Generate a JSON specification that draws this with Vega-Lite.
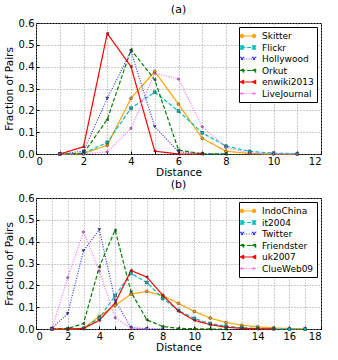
{
  "$schema": "https://vega.github.io/schema/vega-lite/v6.json",
  "padding": {"left": 3, "top": 3, "right": 12, "bottom": 0},
  "spacing": 0,
  "config": {
    "font": "DejaVu Sans",
    "view": {"stroke": "black", "strokeWidth": 1},
    "axis": {
      "labelFont": "DejaVu Sans", "labelFontSize": 10, "labelColor": "black",
      "titleFont": "DejaVu Sans", "titleFontSize": 10.5, "titleFontWeight": "normal", "titleColor": "black",
      "domain": false, "tickColor": "black", "tickSize": -3, "labelPadding": 5,
      "grid": true, "gridColor": "#999999", "gridDash": [1, 2], "gridWidth": 1, "gridOpacity": 1
    },
    "point": {"filled": true, "size": 8, "stroke": "#222222", "strokeWidth": 0.5, "opacity": 1},
    "title": {"font": "DejaVu Sans", "fontSize": 11, "fontWeight": "normal", "offset": 3}
  },
  "datasets": {
    "a": [
      {"s":"Skitter","d":1,"f":0},{"s":"Skitter","d":2,"f":0.002},{"s":"Skitter","d":3,"f":0.04},{"s":"Skitter","d":4,"f":0.255},{"s":"Skitter","d":5,"f":0.378},{"s":"Skitter","d":6,"f":0.228},{"s":"Skitter","d":7,"f":0.072},{"s":"Skitter","d":8,"f":0.013},{"s":"Skitter","d":9,"f":0.002},{"s":"Skitter","d":10,"f":0},{"s":"Skitter","d":11,"f":0},
      {"s":"Flickr","d":1,"f":0},{"s":"Flickr","d":2,"f":0.003},{"s":"Flickr","d":3,"f":0.053},{"s":"Flickr","d":4,"f":0.21},{"s":"Flickr","d":5,"f":0.283},{"s":"Flickr","d":6,"f":0.197},{"s":"Flickr","d":7,"f":0.097},{"s":"Flickr","d":8,"f":0.036},{"s":"Flickr","d":9,"f":0.012},{"s":"Flickr","d":10,"f":0.004},{"s":"Flickr","d":11,"f":0.001},
      {"s":"Hollywood","d":1,"f":0},{"s":"Hollywood","d":2,"f":0.013},{"s":"Hollywood","d":3,"f":0.255},{"s":"Hollywood","d":4,"f":0.47},{"s":"Hollywood","d":5,"f":0.125},{"s":"Hollywood","d":6,"f":0.01},{"s":"Hollywood","d":7,"f":0.001},{"s":"Hollywood","d":8,"f":0},
      {"s":"Orkut","d":1,"f":0},{"s":"Orkut","d":2,"f":0.003},{"s":"Orkut","d":3,"f":0.158},{"s":"Orkut","d":4,"f":0.478},{"s":"Orkut","d":5,"f":0.34},{"s":"Orkut","d":6,"f":0.018},{"s":"Orkut","d":7,"f":0.001},{"s":"Orkut","d":8,"f":0},
      {"s":"enwiki2013","d":1,"f":0},{"s":"enwiki2013","d":2,"f":0.033},{"s":"enwiki2013","d":3,"f":0.552},{"s":"enwiki2013","d":4,"f":0.4},{"s":"enwiki2013","d":5,"f":0.013},{"s":"enwiki2013","d":6,"f":0},{"s":"enwiki2013","d":7,"f":0},
      {"s":"LiveJournal","d":1,"f":0},{"s":"LiveJournal","d":2,"f":0},{"s":"LiveJournal","d":3,"f":0.01},{"s":"LiveJournal","d":4,"f":0.117},{"s":"LiveJournal","d":5,"f":0.37},{"s":"LiveJournal","d":6,"f":0.343},{"s":"LiveJournal","d":7,"f":0.125},{"s":"LiveJournal","d":8,"f":0.03},{"s":"LiveJournal","d":9,"f":0.004},{"s":"LiveJournal","d":10,"f":0.001},{"s":"LiveJournal","d":11,"f":0}
    ],
    "b": [
      {"s":"IndoChina","d":1,"f":0},{"s":"IndoChina","d":2,"f":0},{"s":"IndoChina","d":3,"f":0.003},{"s":"IndoChina","d":4,"f":0.058},{"s":"IndoChina","d":5,"f":0.108},{"s":"IndoChina","d":6,"f":0.16},{"s":"IndoChina","d":7,"f":0.172},{"s":"IndoChina","d":8,"f":0.153},{"s":"IndoChina","d":9,"f":0.117},{"s":"IndoChina","d":10,"f":0.08},{"s":"IndoChina","d":11,"f":0.05},{"s":"IndoChina","d":12,"f":0.03},{"s":"IndoChina","d":13,"f":0.017},{"s":"IndoChina","d":14,"f":0.01},{"s":"IndoChina","d":15,"f":0.005},{"s":"IndoChina","d":16,"f":0.002},{"s":"IndoChina","d":17,"f":0.001},
      {"s":"it2004","d":1,"f":0},{"s":"it2004","d":2,"f":0},{"s":"it2004","d":3,"f":0.003},{"s":"it2004","d":4,"f":0.05},{"s":"it2004","d":5,"f":0.153},{"s":"it2004","d":6,"f":0.255},{"s":"it2004","d":7,"f":0.213},{"s":"it2004","d":8,"f":0.14},{"s":"it2004","d":9,"f":0.085},{"s":"it2004","d":10,"f":0.048},{"s":"it2004","d":11,"f":0.025},{"s":"it2004","d":12,"f":0.013},{"s":"it2004","d":13,"f":0.006},{"s":"it2004","d":14,"f":0.003},{"s":"it2004","d":15,"f":0.001},{"s":"it2004","d":16,"f":0},{"s":"it2004","d":17,"f":0},
      {"s":"Twitter","d":1,"f":0.003},{"s":"Twitter","d":2,"f":0.07},{"s":"Twitter","d":3,"f":0.358},{"s":"Twitter","d":4,"f":0.455},{"s":"Twitter","d":5,"f":0.13},{"s":"Twitter","d":6,"f":0.007},{"s":"Twitter","d":7,"f":0.001},{"s":"Twitter","d":8,"f":0},
      {"s":"Friendster","d":1,"f":0},{"s":"Friendster","d":2,"f":0.002},{"s":"Friendster","d":3,"f":0.025},{"s":"Friendster","d":4,"f":0.285},{"s":"Friendster","d":5,"f":0.453},{"s":"Friendster","d":6,"f":0.17},{"s":"Friendster","d":7,"f":0.042},{"s":"Friendster","d":8,"f":0.012},{"s":"Friendster","d":9,"f":0.003},{"s":"Friendster","d":10,"f":0.001},{"s":"Friendster","d":11,"f":0},{"s":"Friendster","d":12,"f":0},
      {"s":"uk2007","d":1,"f":0},{"s":"uk2007","d":2,"f":0},{"s":"uk2007","d":3,"f":0.002},{"s":"uk2007","d":4,"f":0.04},{"s":"uk2007","d":5,"f":0.12},{"s":"uk2007","d":6,"f":0.268},{"s":"uk2007","d":7,"f":0.238},{"s":"uk2007","d":8,"f":0.155},{"s":"uk2007","d":9,"f":0.082},{"s":"uk2007","d":10,"f":0.04},{"s":"uk2007","d":11,"f":0.02},{"s":"uk2007","d":12,"f":0.008},{"s":"uk2007","d":13,"f":0.003},{"s":"uk2007","d":14,"f":0.001},{"s":"uk2007","d":15,"f":0},
      {"s":"ClueWeb09","d":1,"f":0},{"s":"ClueWeb09","d":2,"f":0.235},{"s":"ClueWeb09","d":3,"f":0.445},{"s":"ClueWeb09","d":4,"f":0.265},{"s":"ClueWeb09","d":5,"f":0.052},{"s":"ClueWeb09","d":6,"f":0.003},{"s":"ClueWeb09","d":7,"f":0}
    ]
  },
  "vconcat": [
    {
      "title": "(a)",
      "width": 285, "height": 131,
      "data": {"name": "a"},
      "encoding": {
        "x": {"field": "d", "type": "quantitative", "title": "Distance",
              "scale": {"domain": [0, 12], "nice": false},
              "axis": {"values": [0,1,2,3,4,5,6,7,8,9,10,11,12], "labelExpr": "datum.value % 2 == 0 ? datum.label : ''", "titlePadding": 1}},
        "y": {"field": "f", "type": "quantitative", "title": "Fraction of Pairs",
              "scale": {"domain": [0, 0.6], "nice": false},
              "axis": {"values": [0,0.1,0.2,0.3,0.4,0.5,0.6], "format": ".1f"}}
      },
      "layer": [
        {"mark": {"type": "line", "strokeWidth": 1.2},
         "encoding": {
           "color": {"field": "s", "type": "nominal",
                  "scale": {"domain": ["Skitter","Flickr","Hollywood","Orkut","enwiki2013","LiveJournal"],
                            "range": ["#ffa500","#00bfbf","#3333ff","#008000","#ff0000","#ff66ff"]},
                  "legend": {"title": null, "orient": "top-right", "offset": 4, "strokeColor": "black", "fillColor": "white", "padding": 3, "labelFontSize": 9, "labelFont": "DejaVu Sans", "labelColor": "black", "labelOffset": 8, "symbolSize": 110, "rowPadding": 0.5, "symbolType": "stroke", "symbolStrokeWidth": 1.2,
                    "encode": {"symbols": {"update": {
                      "shape": {"signal": "'M-1.3,0L1.3,0' + (indexof(['Skitter','IndoChina'],datum.value)>=0 ? 'M-1.45,0a0.3,0.3 0 1,0 0.6,0a0.3,0.3 0 1,0 -0.6,0M0.85,0a0.3,0.3 0 1,0 0.6,0a0.3,0.3 0 1,0 -0.6,0' : indexof(['Flickr','it2004'],datum.value)>=0 ? 'M-1.45,-0.3h0.6v0.6h-0.6ZM0.85,-0.3h0.6v0.6h-0.6Z' : indexof(['Hollywood','Twitter'],datum.value)>=0 ? 'M-1.45,-0.3h0.6l-0.3,0.6ZM0.85,-0.3h0.6l-0.3,0.6Z' : indexof(['Orkut','Friendster','enwiki2013','uk2007'],datum.value)>=0 ? 'M-0.85,-0.3v0.6l-0.6,-0.3ZM1.45,-0.3v0.6l-0.6,-0.3Z' : 'M-1.35,0a0.2,0.2 0 1,0 0.4,0a0.2,0.2 0 1,0 -0.4,0M0.95,0a0.2,0.2 0 1,0 0.4,0a0.2,0.2 0 1,0 -0.4,0')"},
                      "fill": {"signal": "{'Skitter':'#cc8400','Flickr':'#009999','Hollywood':'#000099','Orkut':'#005500','enwiki2013':'#aa0000','LiveJournal':'#660066','IndoChina':'#cc8400','it2004':'#009999','Twitter':'#000099','Friendster':'#005500','uk2007':'#aa0000','ClueWeb09':'#660066'}[datum.value]"},
                      "opacity": {"value": 1}
                    }}}}},
           "strokeDash": {"field": "s", "type": "nominal", "legend": {"title": null, "orient": "top-right"},
           "scale": {"domain": ["Skitter","Flickr","Hollywood","Orkut","enwiki2013","LiveJournal"],
                     "range": [[1,0],[4,2],[1,1.5],[4,2],[1,0],[1,1.5]]}}}},
        {"transform": [{"filter": {"field": "s", "oneOf": ["Skitter"]}}], "mark": {"type": "point", "shape": "circle"}, "encoding": {"color": {"field": "s", "type": "nominal", "legend": null}}},
        {"transform": [{"filter": {"field": "s", "oneOf": ["Flickr"]}}], "mark": {"type": "point", "shape": "square"}, "encoding": {"color": {"field": "s", "type": "nominal", "legend": null}}},
        {"transform": [{"filter": {"field": "s", "oneOf": ["Hollywood"]}}], "mark": {"type": "point", "shape": "triangle-down"}, "encoding": {"color": {"field": "s", "type": "nominal", "legend": null}}},
        {"transform": [{"filter": {"field": "s", "oneOf": ["Orkut", "enwiki2013"]}}], "mark": {"type": "point", "shape": "triangle-left"}, "encoding": {"color": {"field": "s", "type": "nominal", "legend": null}}},
        {"transform": [{"filter": {"field": "s", "oneOf": ["LiveJournal"]}}], "mark": {"type": "point", "shape": "circle", "size": 5}, "encoding": {"color": {"field": "s", "type": "nominal", "legend": null}}}
      ]
    },
    {
      "title": "(b)",
      "width": 285, "height": 131,
      "data": {"name": "b"},
      "encoding": {
        "x": {"field": "d", "type": "quantitative", "title": "Distance",
              "scale": {"domain": [0, 18], "nice": false},
              "axis": {"values": [0,1,2,3,4,5,6,7,8,9,10,11,12,13,14,15,16,17,18], "labelExpr": "datum.value % 2 == 0 ? datum.label : ''", "titlePadding": 1}},
        "y": {"field": "f", "type": "quantitative", "title": "Fraction of Pairs",
              "scale": {"domain": [0, 0.6], "nice": false},
              "axis": {"values": [0,0.1,0.2,0.3,0.4,0.5,0.6], "format": ".1f"}}
      },
      "layer": [
        {"mark": {"type": "line", "strokeWidth": 1.2},
         "encoding": {
           "color": {"field": "s", "type": "nominal",
                  "scale": {"domain": ["IndoChina","it2004","Twitter","Friendster","uk2007","ClueWeb09"],
                            "range": ["#ffa500","#00bfbf","#3333ff","#008000","#ff0000","#ff66ff"]},
                  "legend": {"title": null, "orient": "top-right", "offset": 4, "strokeColor": "black", "fillColor": "white", "padding": 3, "labelFontSize": 9, "labelFont": "DejaVu Sans", "labelColor": "black", "labelOffset": 8, "symbolSize": 110, "rowPadding": 0.5, "symbolType": "stroke", "symbolStrokeWidth": 1.2,
                    "encode": {"symbols": {"update": {
                      "shape": {"signal": "'M-1.3,0L1.3,0' + (indexof(['Skitter','IndoChina'],datum.value)>=0 ? 'M-1.45,0a0.3,0.3 0 1,0 0.6,0a0.3,0.3 0 1,0 -0.6,0M0.85,0a0.3,0.3 0 1,0 0.6,0a0.3,0.3 0 1,0 -0.6,0' : indexof(['Flickr','it2004'],datum.value)>=0 ? 'M-1.45,-0.3h0.6v0.6h-0.6ZM0.85,-0.3h0.6v0.6h-0.6Z' : indexof(['Hollywood','Twitter'],datum.value)>=0 ? 'M-1.45,-0.3h0.6l-0.3,0.6ZM0.85,-0.3h0.6l-0.3,0.6Z' : indexof(['Orkut','Friendster','enwiki2013','uk2007'],datum.value)>=0 ? 'M-0.85,-0.3v0.6l-0.6,-0.3ZM1.45,-0.3v0.6l-0.6,-0.3Z' : 'M-1.35,0a0.2,0.2 0 1,0 0.4,0a0.2,0.2 0 1,0 -0.4,0M0.95,0a0.2,0.2 0 1,0 0.4,0a0.2,0.2 0 1,0 -0.4,0')"},
                      "fill": {"signal": "{'Skitter':'#cc8400','Flickr':'#009999','Hollywood':'#000099','Orkut':'#005500','enwiki2013':'#aa0000','LiveJournal':'#660066','IndoChina':'#cc8400','it2004':'#009999','Twitter':'#000099','Friendster':'#005500','uk2007':'#aa0000','ClueWeb09':'#660066'}[datum.value]"},
                      "opacity": {"value": 1}
                    }}}}},
           "strokeDash": {"field": "s", "type": "nominal", "legend": {"title": null, "orient": "top-right"},
           "scale": {"domain": ["IndoChina","it2004","Twitter","Friendster","uk2007","ClueWeb09"],
                     "range": [[1,0],[4,2],[1,1.5],[4,2],[1,0],[1,1.5]]}}}},
        {"transform": [{"filter": {"field": "s", "oneOf": ["IndoChina"]}}], "mark": {"type": "point", "shape": "circle"}, "encoding": {"color": {"field": "s", "type": "nominal", "legend": null}}},
        {"transform": [{"filter": {"field": "s", "oneOf": ["it2004"]}}], "mark": {"type": "point", "shape": "square"}, "encoding": {"color": {"field": "s", "type": "nominal", "legend": null}}},
        {"transform": [{"filter": {"field": "s", "oneOf": ["Twitter"]}}], "mark": {"type": "point", "shape": "triangle-down"}, "encoding": {"color": {"field": "s", "type": "nominal", "legend": null}}},
        {"transform": [{"filter": {"field": "s", "oneOf": ["Friendster", "uk2007"]}}], "mark": {"type": "point", "shape": "triangle-left"}, "encoding": {"color": {"field": "s", "type": "nominal", "legend": null}}},
        {"transform": [{"filter": {"field": "s", "oneOf": ["ClueWeb09"]}}], "mark": {"type": "point", "shape": "circle", "size": 5}, "encoding": {"color": {"field": "s", "type": "nominal", "legend": null}}}
      ]
    }
  ],
  "resolve": {"scale": {"color": "independent", "strokeDash": "independent", "x": "independent"}}
}
